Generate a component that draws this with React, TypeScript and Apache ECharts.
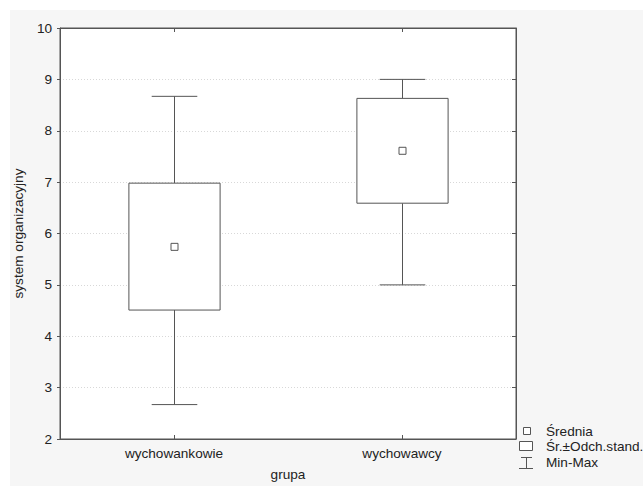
import React, { useEffect, useRef } from "react";
import * as echarts from "echarts";

const categories = ["wychowankowie", "wychowawcy"];
const minValues = [2.67, 5.0];
const sdLow = [4.51, 6.59];
const means = [5.74, 7.61];
const sdHigh = [6.98, 8.63];
const maxValues = [8.67, 9.0];
const yTicks = { min: 2, max: 10, interval: 1 };
const legendLabels = ["Średnia", "Śr.±Odch.stand.", "Min-Max"];

const FONT = "Liberation Sans, Arial, sans-serif";
const LINE = "#555555";
const FS = 13.6;

export default function App() {
  const ref = useRef<HTMLDivElement>(null);
  useEffect(() => {
    if (!ref.current) return;
    const chart = echarts.init(ref.current, undefined, { renderer: "svg" });
    const data = categories.map((_, i) => [i, minValues[i], sdLow[i], means[i], sdHigh[i], maxValues[i]]);
    const option: any = {
      animation: false,
      backgroundColor: "transparent",
      textStyle: { fontFamily: FONT },
      grid: {
        left: 60,
        top: 28,
        width: 456,
        height: 416,
        show: true,
        backgroundColor: "#ffffff",
        borderColor: LINE,
        borderWidth: 1,
      },
      xAxis: [
        {
          type: "category",
          data: categories,
          position: "bottom",
          boundaryGap: true,
          name: "grupa",
          nameLocation: "middle",
          nameGap: 28,
          nameTextStyle: { color: "#222", fontSize: FS, fontFamily: FONT },
          axisLine: { show: true, lineStyle: { color: LINE } },
          axisTick: { show: true, inside: true, alignWithLabel: true, length: 4, lineStyle: { color: LINE } },
          axisLabel: { color: "#222", fontSize: FS, margin: 7, fontFamily: FONT },
          splitLine: { show: false },
        },
        {
          type: "category",
          data: categories,
          position: "top",
          boundaryGap: true,
          axisLine: { show: true, lineStyle: { color: LINE } },
          axisTick: { show: true, inside: true, alignWithLabel: true, length: 4, lineStyle: { color: LINE } },
          axisLabel: { show: false },
          splitLine: { show: false },
        },
      ],
      yAxis: [
        {
          type: "value",
          min: yTicks.min,
          max: yTicks.max,
          interval: yTicks.interval,
          position: "left",
          name: "system organizacyjny",
          nameLocation: "middle",
          nameGap: 26,
          nameRotate: 90,
          nameTextStyle: { color: "#222", fontSize: FS, fontFamily: FONT },
          axisLine: { show: true, lineStyle: { color: LINE } },
          axisTick: { show: true, inside: false, length: 3, lineStyle: { color: LINE } },
          axisLabel: { color: "#222", fontSize: FS, margin: 8, fontFamily: FONT },
          splitLine: { show: true, lineStyle: { color: "#d8d8d8", type: [1, 2], width: 1 } },
        },
        {
          type: "value",
          min: yTicks.min,
          max: yTicks.max,
          interval: yTicks.interval,
          position: "right",
          axisLine: { show: true, lineStyle: { color: LINE } },
          axisTick: { show: true, inside: true, length: 4, lineStyle: { color: LINE } },
          axisLabel: { show: false },
          splitLine: { show: false },
        },
      ],
      series: [
        {
          type: "custom",
          xAxisIndex: 0,
          yAxisIndex: 0,
          data,
          renderItem: (params: any, api: any) => {
            const x = api.value(0);
            const pMin = api.coord([x, api.value(1)]);
            const pLow = api.coord([x, api.value(2)]);
            const pMean = api.coord([x, api.value(3)]);
            const pHigh = api.coord([x, api.value(4)]);
            const pMax = api.coord([x, api.value(5)]);
            const band = api.size([1, 0])[0];
            const bw = band * 0.4;
            const cw = bw * 0.5;
            const cx = Math.round(pMin[0]) + 0.5;
            const st = { stroke: LINE, lineWidth: 1, fill: "none" };
            return {
              type: "group",
              children: [
                { type: "line", shape: { x1: cx, y1: pMax[1], x2: cx, y2: pHigh[1] }, style: st },
                { type: "line", shape: { x1: cx, y1: pLow[1], x2: cx, y2: pMin[1] }, style: st },
                { type: "line", shape: { x1: cx - cw / 2, y1: pMax[1], x2: cx + cw / 2, y2: pMax[1] }, style: st },
                { type: "line", shape: { x1: cx - cw / 2, y1: pMin[1], x2: cx + cw / 2, y2: pMin[1] }, style: st },
                {
                  type: "rect",
                  shape: { x: cx - bw / 2, y: pHigh[1], width: bw, height: pLow[1] - pHigh[1] },
                  style: { stroke: LINE, lineWidth: 1, fill: "#ffffff" },
                },
                {
                  type: "rect",
                  shape: { x: cx - 3.5, y: pMean[1] - 3.5, width: 7, height: 7 },
                  style: { stroke: LINE, lineWidth: 1, fill: "#ffffff" },
                },
              ],
            };
          },
        },
      ],
      graphic: [
        {
          type: "rect",
          z: -100,
          silent: true,
          shape: { x: 10, y: 10, width: 633, height: 476 },
          style: { fill: "#f6f6f6" },
        },
        { type: "rect", shape: { x: 523.5, y: 427.5, width: 7, height: 7 }, style: { stroke: LINE, lineWidth: 1, fill: "#fff" } },
        { type: "rect", shape: { x: 519.5, y: 441.5, width: 13, height: 9 }, style: { stroke: LINE, lineWidth: 1, fill: "#fff" } },
        { type: "line", shape: { x1: 526.5, y1: 457, x2: 526.5, y2: 468 }, style: { stroke: LINE, lineWidth: 1 } },
        { type: "line", shape: { x1: 521, y1: 457.5, x2: 532, y2: 457.5 }, style: { stroke: LINE, lineWidth: 1 } },
        { type: "line", shape: { x1: 519, y1: 468.5, x2: 533, y2: 468.5 }, style: { stroke: LINE, lineWidth: 1 } },
        ...legendLabels.map((t, i) => ({
          type: "text",
          x: 546,
          y: 431 + i * 15.5,
          style: { text: t, fill: "#222", font: `${FS}px ${FONT}`, textVerticalAlign: "middle", verticalAlign: "middle" },
        })),
      ],
    };
    chart.setOption(option);
    return () => chart.dispose();
  }, []);
  return (
    <div
      ref={ref}
      style={{ position: "absolute", left: 0, top: 0, width: 643, height: 486, background: "#ffffff" }}
    />
  );
}
